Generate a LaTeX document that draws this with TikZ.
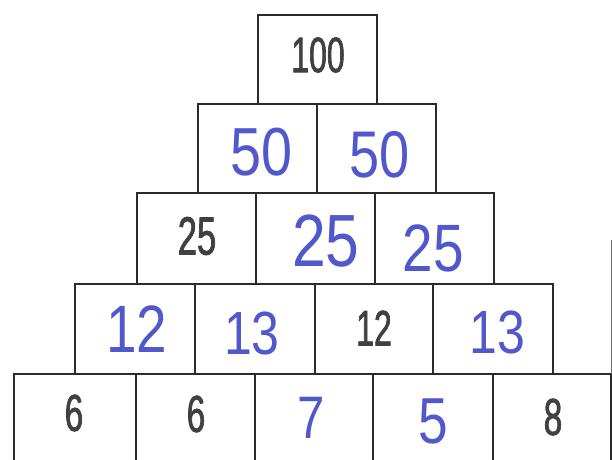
\documentclass[tikz,border=0pt]{standalone}
\usepackage{fontspec}
\newfontfamily\printfont[FakeStretch=0.64,FakeBold=1.3]{Liberation Sans}
\newfontfamily\handfont[FakeStretch=0.82]{Liberation Sans}
\definecolor{ink}{HTML}{2B2B2B}
\definecolor{pen}{HTML}{5058CC}
\tikzset{
  cell/.style={draw=ink, line width=1.2pt, inner sep=0pt, outer sep=0pt, anchor=north west},
  printed/.style={text=ink!90, font=\printfont\fontsize{#1}{#1}\selectfont, inner sep=0pt},
  printed/.default=52,
  hand/.style={text=pen, font=\handfont\fontsize{#1}{#1}\selectfont, inner sep=0pt},
  hand/.default=64,
}
\begin{document}
\begin{tikzpicture}[x=1pt,y=-1pt]
\useasboundingbox[fill=white] (0,0) rectangle (612,459);
% row 1
\node[cell, minimum width=119pt, minimum height=89pt] (r1a) at (258,15) {};
% row 2
\node[cell, minimum width=119pt, minimum height=89pt] (r2a) at (198,104) {};
\node[cell, minimum width=119pt, minimum height=89pt] (r2b) at (317,104) {};
% row 3
\node[cell, minimum width=119pt, minimum height=91pt] (r3a) at (137,193) {};
\node[cell, minimum width=119pt, minimum height=91pt] (r3b) at (256,193) {};
\node[cell, minimum width=119pt, minimum height=91pt] (r3c) at (375,193) {};
% row 4
\node[cell, minimum width=120pt, minimum height=90pt] (r4a) at (75,284) {};
\node[cell, minimum width=120pt, minimum height=90pt] (r4b) at (195,284) {};
\node[cell, minimum width=118pt, minimum height=90pt] (r4c) at (315,284) {};
\node[cell, minimum width=120pt, minimum height=90pt] (r4d) at (433,284) {};
% row 5
\node[cell, minimum width=122pt, minimum height=98pt] (r5a) at (14,374) {};
\node[cell, minimum width=119pt, minimum height=98pt] (r5b) at (136,374) {};
\node[cell, minimum width=118pt, minimum height=98pt] (r5c) at (255,374) {};
\node[cell, minimum width=120pt, minimum height=98pt] (r5d) at (373,374) {};
\node[cell, minimum width=118pt, minimum height=98pt] (r5e) at (493,374) {};
% edge line at right
\coordinate (e1) at (611,240);
\draw[ink!70, line width=1pt] (e1) -- (r5e.north east);
% texts
\node[printed=50] (t100) at (318,55) {100};
\node[hand=68] (t50a) at (262,152) {50};
\node[hand=66] (t50b) at (380,155) {50};
\node[printed=54] (t25a) at (197,236) {25};
\node[hand=74] (t25b) at (326,241) {25};
\node[hand=67] (t25c) at (433,248) {25};
\node[hand=67] (t12a) at (137,329) {12};
\node[hand=61] (t13a) at (252,333) {13};
\node[printed=50] (t12b) at (374,328) {12};
\node[hand=61] (t13b) at (497,332) {13};
\node[printed] (t6a) at (74,413) {6};
\node[printed] (t6b) at (196,414) {6};
\node[hand=60] (t7) at (311,418) {7};
\node[hand=65] (t5) at (433,421) {5};
\node[printed] (t8) at (553,417) {8};
\end{tikzpicture}
\end{document}
